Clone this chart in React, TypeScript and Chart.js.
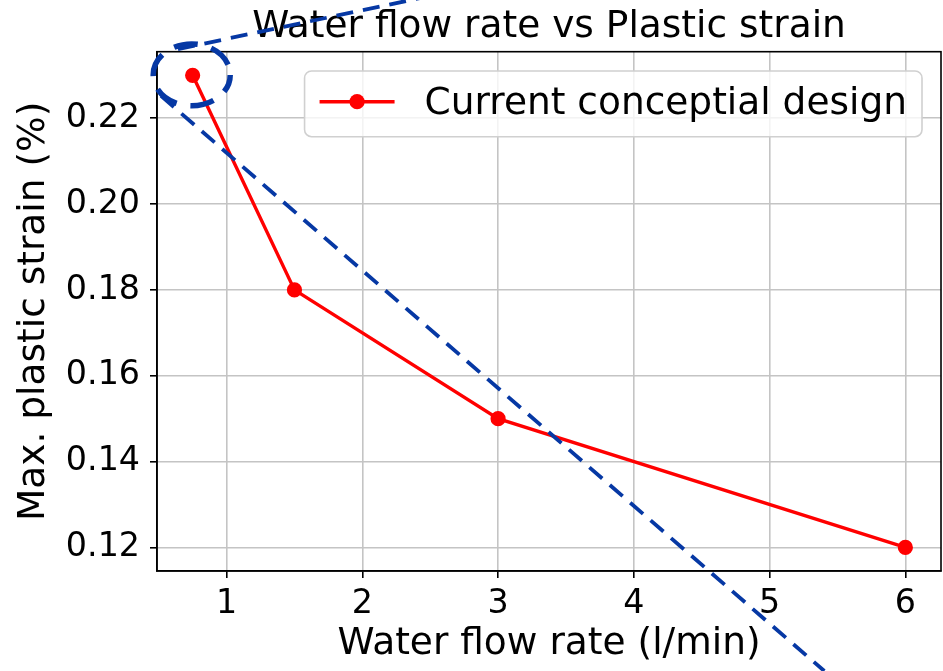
import React, { useEffect, useRef } from 'react';
import { Chart, registerables } from 'chart.js';

Chart.register(...registerables);

// ---- data ----
const flowRates = [0.75, 1.5, 3, 6];
const maxPlasticStrain = [0.23, 0.18, 0.15, 0.12];
const xTickValues = [1, 2, 3, 4, 5, 6];
const yTickValues = [0.12, 0.14, 0.16, 0.18, 0.2, 0.22];
const xLimits = [0.4875, 6.2625];
const yLimits = [0.1145, 0.2355];
const seriesLabel = 'Current conceptial design';
const chartTitle = 'Water flow rate vs Plastic strain';
const xAxisTitle = 'Water flow rate (l/min)';
const yAxisTitle = 'Max. plastic strain (%)';

// annotation geometry (data units)
const calloutUpperX = [0.642, 2.5];
const calloutUpperY = [0.2361, 0.2485];
const calloutLowerX = [0.517, 5.403];
const calloutLowerY = [0.2252, 0.0912];
const circleCenter = [0.7432, 0.2301];
const circleRadii = [0.2837, 0.00722];

const FONT = "'DejaVu Sans', 'Liberation Sans', sans-serif";
const RED = '#ff0000';
const BLUE = '#0638a4';

const framePlugin = {
  id: 'frame',
  afterDatasetsDraw(chart: any) {
    const { ctx, chartArea: a } = chart;
    ctx.save();
    ctx.strokeStyle = '#000';
    ctx.lineWidth = 1.6;
    ctx.strokeRect(a.left, a.top, a.right - a.left, a.bottom - a.top);
    ctx.restore();
  },
};

const legendPlugin = {
  id: 'mplLegend',
  afterDatasetsDraw(chart: any) {
    const { ctx, chartArea: a } = chart;
    const ds = chart.data.datasets[0];
    const fs = 37.5;
    ctx.save();
    ctx.font = `${fs}px ${FONT}`;
    const tw = ctx.measureText(ds.label).width;
    const pad = 15;
    const handleLen = 75;
    const handleGap = 30;
    const w = pad + handleLen + handleGap + tw + pad;
    const h = 65.7;
    const right = a.right - 19;
    const left = right - w;
    const top = a.top + 19.3;
    const r = 7;
    ctx.beginPath();
    ctx.moveTo(left + r, top);
    ctx.lineTo(left + w - r, top);
    ctx.arcTo(left + w, top, left + w, top + r, r);
    ctx.lineTo(left + w, top + h - r);
    ctx.arcTo(left + w, top + h, left + w - r, top + h, r);
    ctx.lineTo(left + r, top + h);
    ctx.arcTo(left, top + h, left, top + h - r, r);
    ctx.lineTo(left, top + r);
    ctx.arcTo(left, top, left + r, top, r);
    ctx.closePath();
    ctx.fillStyle = 'rgba(255,255,255,0.8)';
    ctx.fill();
    ctx.strokeStyle = '#d0d0d0';
    ctx.lineWidth = 1.6;
    ctx.stroke();
    const hy = top + 30.7;
    const hx = left + pad;
    ctx.strokeStyle = ds.borderColor;
    ctx.lineWidth = ds.borderWidth;
    ctx.beginPath();
    ctx.moveTo(hx, hy);
    ctx.lineTo(hx + handleLen, hy);
    ctx.stroke();
    ctx.fillStyle = ds.pointBackgroundColor;
    ctx.beginPath();
    ctx.arc(hx + handleLen / 2, hy, 7.6, 0, Math.PI * 2);
    ctx.fill();
    ctx.fillStyle = '#000';
    ctx.textBaseline = 'alphabetic';
    ctx.textAlign = 'left';
    ctx.fillText(ds.label, hx + handleLen + handleGap, top + 43);
    ctx.restore();
  },
};

const calloutPlugin = {
  id: 'callouts',
  afterDraw(chart: any) {
    const { ctx } = chart;
    const xs = chart.scales.x;
    const ys = chart.scales.y;
    ctx.save();
    ctx.strokeStyle = BLUE;
    ctx.lineCap = 'butt';
    ctx.lineWidth = 3.8;
    ctx.setLineDash([17, 10]);
    const lines = [
      [calloutUpperX, calloutUpperY],
      [calloutLowerX, calloutLowerY],
    ];
    for (const [lx, ly] of lines) {
      ctx.beginPath();
      ctx.moveTo(xs.getPixelForValue(lx[0]), ys.getPixelForValue(ly[0]));
      ctx.lineTo(xs.getPixelForValue(lx[1]), ys.getPixelForValue(ly[1]));
      ctx.stroke();
    }
    const cx = xs.getPixelForValue(circleCenter[0]);
    const cy = ys.getPixelForValue(circleCenter[1]);
    const rx = xs.getPixelForValue(circleCenter[0] + circleRadii[0]) - cx;
    const ry = cy - ys.getPixelForValue(circleCenter[1] + circleRadii[1]);
    ctx.lineWidth = 5.5;
    ctx.setLineDash([24, 14]);
    ctx.lineDashOffset = 6;
    ctx.beginPath();
    ctx.ellipse(cx, cy, rx, ry, 0, 0, Math.PI * 2);
    ctx.stroke();
    ctx.restore();
  },
};

export default function App() {
  const canvasRef = useRef<HTMLCanvasElement | null>(null);

  useEffect(() => {
    if (!canvasRef.current) return;
    Chart.defaults.font.family = FONT;
    Chart.defaults.color = '#000';
    const chart = new Chart(canvasRef.current, {
      type: 'line',
      data: {
        datasets: [
          {
            label: seriesLabel,
            data: flowRates.map((x, i) => ({ x, y: maxPlasticStrain[i] })),
            borderColor: RED,
            backgroundColor: RED,
            borderWidth: 3.4,
            pointRadius: 6.8,
            pointBorderWidth: 1.6,
            pointBackgroundColor: RED,
            pointBorderColor: RED,
            tension: 0,
            clip: false,
          },
        ],
      },
      options: {
        animation: false,
        responsive: false,
        devicePixelRatio: 1,
        layout: { autoPadding: false, padding: { left: 0, right: 2, top: 0, bottom: 0 } },
        plugins: {
          legend: { display: false },
          tooltip: { enabled: false },
          title: {
            display: true,
            text: chartTitle,
            fullSize: false,
            color: '#000',
            font: { size: 37.5, weight: 'normal', family: FONT },
            padding: { top: 5, bottom: 1.7 },
          },
        },
        scales: {
          x: {
            type: 'linear',
            min: xLimits[0],
            max: xLimits[1],
            afterBuildTicks: (s: any) => {
              s.ticks = xTickValues.map((v) => ({ value: v }));
            },
            afterFit: (s: any) => {
              s.height = 100;
              s.paddingLeft = 0;
              s.paddingRight = 0;
            },
            ticks: {
              color: '#000',
              font: { size: 33.3, family: FONT },
              padding: 6,
              maxRotation: 0,
              autoSkip: false,
              callback: (v: any) => String(v),
            },
            grid: {
              color: '#c4c4c4',
              lineWidth: 1.6,
              tickColor: '#000',
              tickLength: 7,
              tickWidth: 1.6,
            },
            border: { color: '#000', width: 1.6 },
            title: {
              display: true,
              text: xAxisTitle,
              color: '#000',
              font: { size: 37.5, family: FONT },
              padding: { top: 0, bottom: 4 },
            },
          },
          y: {
            type: 'linear',
            min: yLimits[0],
            max: yLimits[1],
            afterBuildTicks: (s: any) => {
              s.ticks = yTickValues.map((v) => ({ value: v }));
            },
            afterFit: (s: any) => {
              s.width = 157;
              s.paddingTop = 0;
              s.paddingBottom = 0;
            },
            ticks: {
              color: '#000',
              font: { size: 33.3, family: FONT },
              padding: 10,
              autoSkip: false,
              callback: (v: any) => Number(v).toFixed(2),
            },
            grid: {
              color: '#c4c4c4',
              lineWidth: 1.6,
              tickColor: '#000',
              tickLength: 7,
              tickWidth: 1.6,
            },
            border: { color: '#000', width: 1.6 },
            title: {
              display: true,
              text: yAxisTitle,
              color: '#000',
              font: { size: 37.5, family: FONT },
              padding: { top: 12, bottom: 0 },
            },
          },
        },
      },
      plugins: [framePlugin, legendPlugin, calloutPlugin],
    } as any);
    return () => chart.destroy();
  }, []);

  return (
    <div style={{ position: 'absolute', left: 0, top: 0, width: 943, height: 671, background: '#fff' }}>
      <canvas ref={canvasRef} width={943} height={671} style={{ display: 'block' }} />
    </div>
  );
}
